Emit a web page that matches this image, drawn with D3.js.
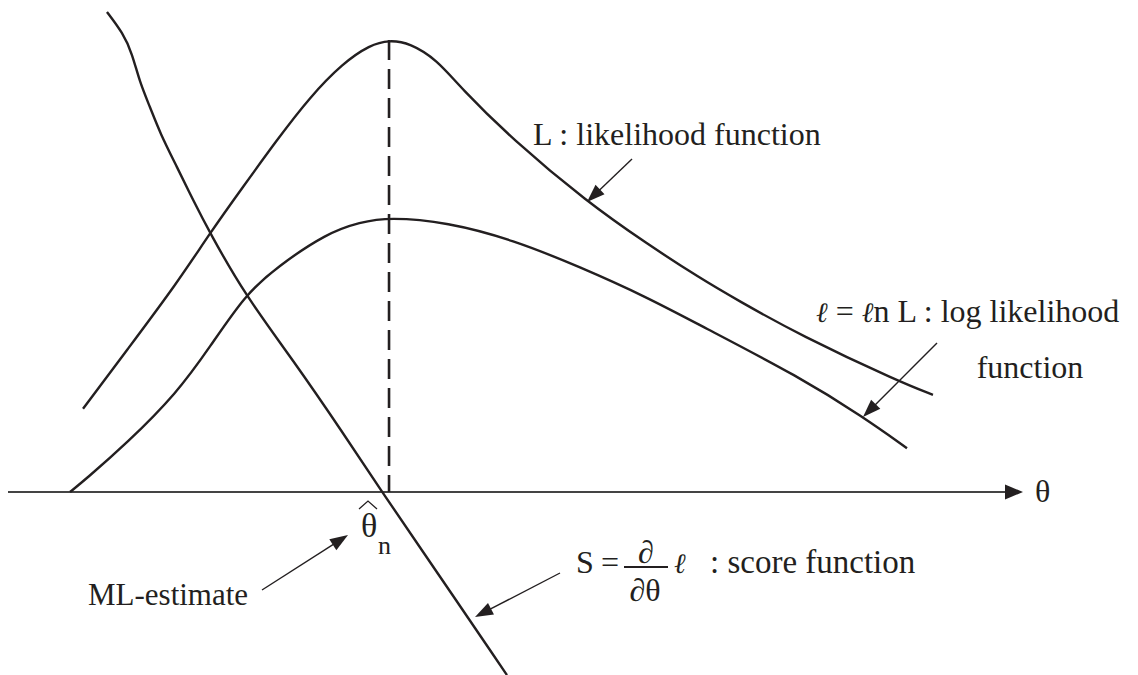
<!DOCTYPE html>
<html>
<head>
<meta charset="utf-8">
<script src="https://cdn.jsdelivr.net/npm/d3@7"></script>
<style>
  html, body { margin: 0; padding: 0; background: #fff; }
  svg { display: block; }
  text { font-family: "Liberation Serif", "Times New Roman", serif; fill: #231f20; }
  .ell { font-family: "DejaVu Serif", serif; font-style: italic; }
</style>
</head>
<body>
<svg id="chart" width="1138" height="675"></svg>
<script>
// Parameter θ (horizontal) and function value (vertical, 0 on the θ axis)
const likelihoodTheta = [0.739, 1.172, 1.665, 1.990, 2.315, 2.650, 2.975, 3.300, 3.567, 3.754, 3.961, 4.227, 4.453, 4.975, 5.704, 6.296, 6.818, 7.182, 7.803, 8.788, 9.113];
const likelihoodValue = [0.184, 0.314, 0.462, 0.573, 0.675, 0.779, 0.874, 0.949, 0.989, 1.000, 0.993, 0.956, 0.896, 0.779, 0.642, 0.549, 0.473, 0.425, 0.347, 0.243, 0.215];

const logLikTheta = [0.611, 0.759, 1.172, 1.665, 1.990, 2.335, 2.650, 3.143, 3.468, 3.754, 4.325, 4.975, 5.635, 6.296, 6.818, 7.803, 8.424, 8.857];
const logLikValue = [0.000, 0.027, 0.108, 0.219, 0.321, 0.436, 0.498, 0.573, 0.597, 0.608, 0.597, 0.558, 0.498, 0.431, 0.369, 0.254, 0.166, 0.097];

const scoreTheta = [0.975, 1.133, 1.222, 1.300, 1.399, 1.498, 1.665, 1.823, 1.990, 2.335, 2.808, 3.300, 3.685, 4.010, 4.916];
const scoreValue = [1.062, 1.015, 0.971, 0.905, 0.852, 0.794, 0.719, 0.646, 0.573, 0.436, 0.292, 0.131, 0.000, -0.106, -0.405];

const thetaHat = 3.754;      // ML estimate (peak of L and ℓ)
const thetaDomain = [0, 10];
const valueDomain = [0, 1];

const svg = d3.select("#chart");
const ink = "#231f20";

const x = d3.scaleLinear().domain(thetaDomain).range([8, 1023]);
const y = d3.scaleLinear().domain(valueDomain).range([492, 40]);

const zip = (a, b) => a.map((t, i) => [t, b[i]]);
const line = d3.line().x(d => x(d[0])).y(d => y(d[1])).curve(d3.curveBasis);

// θ axis with arrowhead
const axisY = y(0);
svg.append("line")
  .attr("x1", x(thetaDomain[0])).attr("y1", axisY)
  .attr("x2", x(thetaDomain[1]) - 16).attr("y2", axisY)
  .attr("stroke", "#444").attr("stroke-width", 1.8);
svg.append("path")
  .attr("d", `M${x(thetaDomain[1])},${axisY} L${x(thetaDomain[1]) - 18},${axisY - 7.5} L${x(thetaDomain[1]) - 18},${axisY + 7.5} Z`)
  .attr("fill", ink);
svg.append("text")
  .attr("x", x(thetaDomain[1]) + 12).attr("y", axisY + 10)
  .attr("font-size", 32).text("θ");

// dashed line at the ML estimate
svg.append("line")
  .attr("x1", x(thetaHat)).attr("y1", y(1))
  .attr("x2", x(thetaHat)).attr("y2", y(0))
  .attr("stroke", ink).attr("stroke-width", 2.6)
  .attr("stroke-dasharray", "20,9");

// curves
[[likelihoodTheta, likelihoodValue], [logLikTheta, logLikValue], [scoreTheta, scoreValue]].forEach(([t, v]) => {
  svg.append("path")
    .attr("d", line(zip(t, v)))
    .attr("fill", "none")
    .attr("stroke", ink)
    .attr("stroke-width", 2.4)
    .attr("stroke-linecap", "butt");
});

// annotation arrows
function arrow(x0, y0, x1, y1) {
  const len = 18, half = 6.5;
  const dx = x1 - x0, dy = y1 - y0, d = Math.hypot(dx, dy);
  const ux = dx / d, uy = dy / d;
  const bx = x1 - ux * len, by = y1 - uy * len;
  svg.append("line")
    .attr("x1", x0).attr("y1", y0).attr("x2", bx + ux * 2).attr("y2", by + uy * 2)
    .attr("stroke", ink).attr("stroke-width", 1.4);
  svg.append("path")
    .attr("d", `M${x1},${y1} L${bx - uy * half},${by + ux * half} L${bx + uy * half},${by - ux * half} Z`)
    .attr("fill", ink);
}
arrow(632, 159, 587, 202);
arrow(937, 343, 863, 417);
arrow(262, 590, 348, 535);
arrow(560, 573, 475, 617);

// labels
const fs = 32;
svg.append("text").attr("x", 533).attr("y", 145).attr("font-size", fs)
  .text("L : likelihood function");

const logLab = svg.append("text").attr("x", 816).attr("y", 322).attr("font-size", fs);
logLab.append("tspan").attr("class", "ell").attr("font-size", 28).text("ℓ");
logLab.append("tspan").text(" = ");
logLab.append("tspan").attr("class", "ell").attr("font-size", 28).text("ℓ");
logLab.append("tspan").text("n L : log likelihood");
svg.append("text").attr("x", 1030).attr("y", 378).attr("font-size", fs)
  .attr("text-anchor", "middle").text("function");

svg.append("text").attr("x", 88).attr("y", 605).attr("font-size", 31)
  .text("ML-estimate");

// θ̂ₙ
svg.append("text").attr("x", 361).attr("y", 537).attr("font-size", 34).text("θ");
svg.append("text").attr("x", 378).attr("y", 554).attr("font-size", 26).text("n");
svg.append("path")
  .attr("d", "M359,509 L368,501 L377,509")
  .attr("fill", "none").attr("stroke", ink).attr("stroke-width", 1.3);

// S = ∂/∂θ ℓ : score function
svg.append("text").attr("x", 576).attr("y", 573).attr("font-size", fs).text("S");
svg.append("text").attr("x", 601).attr("y", 573).attr("font-size", fs).text("=");
svg.append("line").attr("x1", 624).attr("x2", 668).attr("y1", 567).attr("y2", 567)
  .attr("stroke", ink).attr("stroke-width", 2);
svg.append("text").attr("x", 646).attr("y", 563).attr("font-size", fs)
  .attr("text-anchor", "middle").text("∂");
svg.append("text").attr("x", 645).attr("y", 601).attr("font-size", fs)
  .attr("text-anchor", "middle").text("∂θ");
svg.append("text").attr("class", "ell").attr("x", 674).attr("y", 573).attr("font-size", 28).text("ℓ");
svg.append("text").attr("x", 710).attr("y", 573).attr("font-size", 33)
  .text(": score function");
</script>
</body>
</html>
